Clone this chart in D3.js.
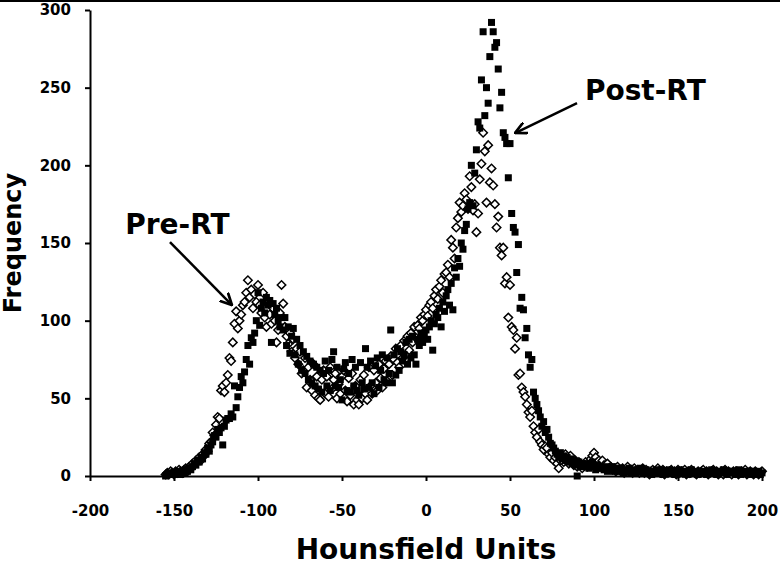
<!DOCTYPE html>
<html>
<head>
<meta charset="utf-8">
<script src="https://cdn.jsdelivr.net/npm/d3@7"></script>
<style>
  body { margin: 0; background: #fff; }
  svg text { font-family: "DejaVu Sans", sans-serif; font-weight: bold; fill: #000; }
</style>
</head>
<body>
<svg id="huHist"></svg>
<script>
// hounsfield unit bins (one per HU)
let huBins = [
  -155,-154,-153,-152,-151,-150,-149,-148,-147,-146,
  -145,-144,-143,-142,-141,-140,-139,-138,-137,-136,
  -135,-134,-133,-132,-131,-130,-129,-128,-127,-126,
  -125,-124,-123,-122,-121,-120,-119,-118,-117,-116,
  -115,-114,-113,-112,-111,-110,-109,-108,-107,-106,
  -105,-104,-103,-102,-101,-100,-99,-98,-97,-96,
  -95,-94,-93,-92,-91,-90,-89,-88,-87,-86,
  -85,-84,-83,-82,-81,-80,-79,-78,-77,-76,
  -75,-74,-73,-72,-71,-70,-69,-68,-67,-66,
  -65,-64,-63,-62,-61,-60,-59,-58,-57,-56,
  -55,-54,-53,-52,-51,-50,-49,-48,-47,-46,
  -45,-44,-43,-42,-41,-40,-39,-38,-37,-36,
  -35,-34,-33,-32,-31,-30,-29,-28,-27,-26,
  -25,-24,-23,-22,-21,-20,-19,-18,-17,-16,
  -15,-14,-13,-12,-11,-10,-9,-8,-7,-6,
  -5,-4,-3,-2,-1,0,1,2,3,4,
  5,6,7,8,9,10,11,12,13,14,
  15,16,17,18,19,20,21,22,23,24,
  25,26,27,28,29,30,31,32,33,34,
  35,36,37,38,39,40,41,42,43,44,
  45,46,47,48,49,50,51,52,53,54,
  55,56,57,58,59,60,61,62,63,64,
  65,66,67,68,69,70,71,72,73,74,
  75,76,77,78,79,80,81,82,83,84,
  85,86,87,88,89,90,91,92,93,94,
  95,96,97,98,99,100,101,102,103,104,
  105,106,107,108,109,110,111,112,113,114,
  115,116,117,118,119,120,121,122,123,124,
  125,126,127,128,129,130,131,132,133,134,
  135,136,137,138,139,140,141,142,143,144,
  145,146,147,148,149,150,151,152,153,154,
  155,156,157,158,159,160,161,162,163,164,
  165,166,167,168,169,170,171,172,173,174,
  175,176,177,178,179,180,181,182,183,184,
  185,186,187,188,189,190,191,192,193,194,
  195,196,197,198,199,200
];

// frequency before RT (open diamonds)
let preRT = [
  1,2,1,3,2,1,3,2,4,3,
  2,4,5,3,6,5,8,7,10,9,
  12,10,14,13,17,16,21,22,28,26,
  33,38,37,55,58,54,60,65,76,74,
  86,98,106,95,100,104,110,112,118,126,
  115,120,108,117,112,123,110,105,118,102,
  96,112,104,98,108,100,86,94,105,123,
  111,96,90,85,92,80,88,76,82,72,
  80,66,68,76,57,70,62,55,72,52,
  64,50,49,62,68,53,64,51,70,56,
  62,66,50,59,53,64,68,55,48,63,
  52,66,46,58,49,46,62,50,65,53,
  49,70,58,53,68,60,55,72,63,57,
  69,74,61,72,77,65,75,82,73,70,
  84,76,87,78,90,81,92,86,96,89,
  97,95,102,100,104,107,103,110,112,108,
  116,120,114,122,126,118,130,131,136,128,
  152,147,140,160,166,176,170,174,182,178,
  172,193,186,171,175,157,169,191,201,221,
  209,176,213,189,198,187,175,160,167,147,
  142,147,124,128,102,123,96,94,82,89,
  65,66,57,54,51,46,41,38,42,32,
  28,25,30,22,20,17,19,18,14,12,
  15,10,12,8,5,10,12,9,14,11,
  8,13,9,7,10,6,9,8,5,7,
  9,6,8,11,13,15,12,9,10,8,
  10,7,6,8,5,6,4,5,3,6,
  4,3,5,2,4,6,3,4,2,5,
  3,4,2,3,5,2,4,3,1,3,
  4,2,3,5,3,2,4,1,3,2,
  3,4,2,3,1,4,2,3,2,4,
  1,3,2,4,3,2,1,3,2,3,
  4,2,3,1,2,3,4,2,3,1,
  2,3,1,4,2,3,2,1,3,2,
  3,1,2,3,2,4,1,2,3,2,
  1,3,2,1,2,3
];

// frequency after RT (filled squares)
let postRT = [
  0,1,2,1,1,2,1,3,2,1,
  3,2,4,3,5,4,6,8,7,10,
  9,12,11,15,14,18,16,20,22,26,
  25,30,28,31,20,32,36,37,37,40,
  38,58,44,51,57,64,60,67,75,84,
  72,89,86,92,100,118,97,108,112,105,
  115,110,113,86,111,104,108,100,96,102,
  94,102,84,96,79,90,95,78,88,72,
  84,68,80,66,77,62,74,60,72,58,
  70,56,68,54,66,74,58,68,55,75,
  80,58,70,57,62,49,69,73,55,66,
  54,75,58,70,55,52,73,60,56,82,
  70,57,74,60,53,71,76,57,68,78,
  62,60,76,66,94,60,78,65,82,68,
  80,74,78,86,72,88,76,90,78,72,
  88,84,92,86,90,94,88,96,100,81,
  98,104,102,108,96,112,106,116,120,110,
  124,107,134,128,140,135,150,146,158,162,
  172,176,200,174,195,210,228,224,255,286,
  232,250,240,270,292,286,276,279,262,237,
  247,221,218,214,192,214,169,160,157,131,
  149,108,115,107,89,95,78,70,75,54,
  50,46,42,38,32,35,28,30,25,21,
  20,18,16,14,12,15,11,13,10,12,
  9,11,8,10,7,0,9,6,8,7,
  6,8,5,7,9,6,4,7,5,6,
  5,4,6,3,5,4,6,3,4,5,
  3,5,4,2,4,3,5,2,3,4,
  2,4,3,5,2,3,4,2,3,1,
  3,2,4,3,2,4,1,3,2,3,
  4,2,3,1,3,2,4,2,3,2,
  3,1,2,4,2,3,2,1,3,2,
  2,3,1,3,2,4,2,3,1,2,
  3,2,4,2,1,3,2,3,2,1,
  2,4,1,3,2,3,2,1,3,2,
  3,1,2,3,1,2
];

// tick labels
let xTickVals = [-200, -150, -100, -50, 0, 50, 100, 150, 200];
let yTickVals = [0, 50, 100, 150, 200, 250, 300];

// define margins for the visualization
let widthSVG = 780;
let heightSVG = 566;
let margins = {
  top: 10,
  bottom: 90,
  left: 90,
  right: 18
};

let width = widthSVG - margins.left - margins.right;
let height = heightSVG - margins.top - margins.bottom;

let SVG = d3.select('svg#huHist')
            .attr('width', widthSVG)
            .attr('height', heightSVG)
            .style('background', '#fff');

// border line across the top
SVG.append('line')
   .attr('x1', 0)
   .attr('x2', widthSVG)
   .attr('y1', 1)
   .attr('y2', 1)
   .style('stroke', '#000')
   .style('stroke-width', '2px');

let SVGG = SVG.append('g')
              .attr('transform', `translate(${margins.left}, ${margins.top})`);

// scales
let x = d3.scaleLinear().domain([-200, 200]).range([0, width]);
let y = d3.scaleLinear().domain([0, 300]).range([height, 0]);

// axes
let xAxis = d3.axisBottom(x)
              .tickValues(xTickVals)
              .tickFormat(d => String(d))
              .tickSizeInner(5)
              .tickSizeOuter(0)
              .tickPadding(24);

let yAxis = d3.axisLeft(y)
              .tickValues(yTickVals)
              .tickFormat(d => String(d))
              .tickSizeInner(5)
              .tickSizeOuter(0)
              .tickPadding(14);

let gx = SVGG.append('g')
    .attr('transform', `translate(0, ${height})`)
    .call(xAxis);

let gy = SVGG.append('g')
    .call(yAxis);

[gx, gy].forEach(g => {
  g.selectAll('path.domain').style('stroke', '#000').style('stroke-width', '2px');
  g.selectAll('line').style('stroke', '#000').style('stroke-width', '2px');
  g.selectAll('text')
   .style('font-family', '"DejaVu Sans", sans-serif')
   .style('font-weight', 'bold')
   .style('font-size', '15px')
   .style('fill', '#000');
});

// build point tables from the arrays
let prePts = huBins.map((h, i) => ({hu: h, f: preRT[i]}));
let postPts = huBins.map((h, i) => ({hu: h, f: postRT[i]}));

// open diamonds (pre-RT), drawn first
let diamond = d3.symbol().type(d3.symbolSquare).size(36);
SVGG.append('g')
    .selectAll('path')
    .data(prePts)
    .enter()
    .append('path')
    .attr('d', diamond)
    .attr('transform', d => `translate(${x(d.hu)}, ${y(d.f)}) rotate(45)`)
    .style('fill', '#fff')
    .style('stroke', '#000')
    .style('stroke-width', '1.5px');

// filled squares (post-RT) on top
let sq = 7;
SVGG.append('g')
    .selectAll('rect')
    .data(postPts)
    .enter()
    .append('rect')
    .attr('x', d => x(d.hu) - sq / 2)
    .attr('y', d => y(d.f) - sq / 2)
    .attr('width', sq)
    .attr('height', sq)
    .style('fill', '#000');

// arrow head marker
SVG.append('defs')
   .append('marker')
   .attr('id', 'arrowHead')
   .attr('markerUnits', 'userSpaceOnUse')
   .attr('viewBox', '0 -6 12 12')
   .attr('refX', 11)
   .attr('refY', 0)
   .attr('markerWidth', 13)
   .attr('markerHeight', 13)
   .attr('orient', 'auto')
   .append('path')
   .attr('d', 'M0,-5.5L11,0L0,5.5')
   .style('fill', 'none')
   .style('stroke', '#000')
   .style('stroke-width', '2.5px');

// annotation labels and arrows
let notes = [
  {label: 'Pre-RT', tx: -179, ty: 156, from: [-152.4, 150.6], to: [-115.5, 110]},
  {label: 'Post-RT', tx: 94.6, ty: 242, from: [89.9, 240], to: [53, 220.8]}
];

SVGG.selectAll('line.arrow')
    .data(notes)
    .enter()
    .append('line')
    .classed('arrow', true)
    .attr('x1', d => x(d.from[0]))
    .attr('y1', d => y(d.from[1]))
    .attr('x2', d => x(d.to[0]))
    .attr('y2', d => y(d.to[1]))
    .style('stroke', '#000')
    .style('stroke-width', '2.5px')
    .attr('marker-end', 'url(#arrowHead)');

SVGG.selectAll('text.note')
    .data(notes)
    .enter()
    .append('text')
    .classed('note', true)
    .text(d => d.label)
    .attr('x', d => x(d.tx))
    .attr('y', d => y(d.ty))
    .style('font-size', '28px');

// axis titles
SVG.append('text')
   .text('Hounsfield Units')
   .attr('x', margins.left + width / 2)
   .attr('y', 559)
   .style('text-anchor', 'middle')
   .style('font-size', '28px');

SVG.append('text')
   .text('Frequency')
   .attr('transform', `translate(21, ${margins.top + height / 2}) rotate(-90)`)
   .style('text-anchor', 'middle')
   .style('font-size', '24px');
</script>
</body>
</html>
